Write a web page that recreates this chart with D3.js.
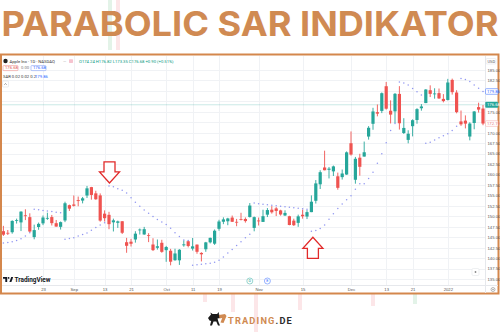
<!DOCTYPE html>
<html>
<head>
<meta charset="utf-8">
<script src="https://cdn.jsdelivr.net/npm/d3@7"></script>
<style>
  body { margin: 0; background: #fff; }
  svg { display: block; }
</style>
</head>
<body>
<div id="chart"></div>
<script>
// AAPL daily candles, Aug 2021 - Jan 2022
const dates = ["2021-08-10","2021-08-11","2021-08-12","2021-08-13","2021-08-16","2021-08-17","2021-08-18","2021-08-19","2021-08-20","2021-08-23","2021-08-24","2021-08-25","2021-08-26","2021-08-27","2021-08-30","2021-08-31","2021-09-01","2021-09-02","2021-09-03","2021-09-07","2021-09-08","2021-09-09","2021-09-10","2021-09-13","2021-09-14","2021-09-15","2021-09-16","2021-09-17","2021-09-20","2021-09-21","2021-09-22","2021-09-23","2021-09-24","2021-09-27","2021-09-28","2021-09-29","2021-09-30","2021-10-01","2021-10-04","2021-10-05","2021-10-06","2021-10-07","2021-10-08","2021-10-11","2021-10-12","2021-10-13","2021-10-14","2021-10-15","2021-10-18","2021-10-19","2021-10-20","2021-10-21","2021-10-22","2021-10-25","2021-10-26","2021-10-27","2021-10-28","2021-10-29","2021-11-01","2021-11-02","2021-11-03","2021-11-04","2021-11-05","2021-11-08","2021-11-09","2021-11-10","2021-11-11","2021-11-12","2021-11-15","2021-11-16","2021-11-17","2021-11-18","2021-11-19","2021-11-22","2021-11-23","2021-11-24","2021-11-26","2021-11-29","2021-11-30","2021-12-01","2021-12-02","2021-12-03","2021-12-06","2021-12-07","2021-12-08","2021-12-09","2021-12-10","2021-12-13","2021-12-14","2021-12-15","2021-12-16","2021-12-17","2021-12-20","2021-12-21","2021-12-22","2021-12-23","2021-12-27","2021-12-28","2021-12-29","2021-12-30","2021-12-31","2022-01-03","2022-01-04","2022-01-05","2022-01-06","2022-01-07","2022-01-10","2022-01-11","2022-01-12","2022-01-13"];

const open = [146.44,146.05,146.19,148.97,148.54,150.23,149.80,145.03,147.44,148.31,
  149.45,149.81,148.35,147.48,149.00,152.66,152.83,153.87,153.76,154.97,
  156.98,155.49,155.00,150.63,150.35,148.56,148.44,148.82,143.80,143.93,
  144.45,146.65,145.66,145.47,143.25,142.47,143.66,141.90,141.76,139.49,
  139.47,143.06,144.03,142.27,143.23,141.24,142.11,143.77,143.45,147.01,
  148.70,148.81,149.69,148.68,149.33,149.36,149.82,147.22,148.99,148.66,
  150.39,151.58,151.89,151.41,150.20,150.02,148.96,148.43,150.37,149.94,
  151.00,153.71,157.65,161.68,161.12,160.75,159.57,159.37,159.99,167.48,
  158.74,164.02,164.29,169.08,172.13,174.91,175.21,181.12,175.25,175.11,
  179.28,169.93,168.28,171.56,173.04,175.85,177.09,180.16,179.33,179.47,
  178.09,177.83,182.63,179.61,172.70,172.89,169.08,172.32,176.12,175.78];

const high = [147.71,146.72,149.05,149.44,151.19,151.68,150.72,148.00,148.50,150.19,
  150.86,150.32,149.12,148.75,153.49,152.80,154.98,154.72,154.63,157.26,
  157.04,156.11,155.48,151.42,151.07,149.44,148.97,148.82,144.84,144.60,
  146.43,147.08,147.47,145.96,144.75,144.45,144.38,142.92,142.21,142.24,
  142.15,144.22,144.18,144.81,143.25,141.40,143.88,144.90,146.84,149.17,
  149.75,149.64,150.18,149.37,150.84,149.73,153.17,149.94,149.70,151.57,
  151.97,152.43,152.20,151.57,151.43,150.13,149.43,150.40,151.60,151.49,
  155.00,158.67,161.02,165.70,161.80,162.14,160.45,161.19,165.52,170.30,
  164.20,164.96,167.88,171.58,175.96,176.75,179.63,182.13,177.74,179.50,
  181.14,173.47,170.58,173.20,175.86,176.85,180.42,181.33,180.63,180.57,
  179.23,182.88,182.94,180.17,175.30,174.14,172.50,175.18,177.18,176.62];

const low = [145.30,145.53,145.84,148.27,146.47,149.09,146.15,144.50,146.78,147.89,
  149.15,147.80,147.51,146.83,148.61,151.29,152.34,152.40,153.09,154.39,
  153.98,153.95,148.70,148.75,146.91,146.37,147.22,145.76,141.27,142.78,
  143.70,145.64,145.56,143.82,141.69,142.03,141.28,139.11,138.27,139.36,
  138.37,142.72,142.56,141.81,141.04,139.20,141.51,143.51,143.16,146.55,
  148.12,147.87,148.64,147.62,149.01,148.49,149.72,146.41,147.80,148.65,
  149.82,150.64,150.06,150.16,150.06,147.85,147.68,147.48,149.43,149.34,
  150.99,153.05,156.53,161.00,159.06,159.64,156.36,158.79,159.92,164.53,
  157.80,159.72,164.28,168.34,170.70,173.92,174.69,175.53,172.21,172.31,
  170.75,169.69,167.46,169.12,172.15,175.27,177.07,178.53,178.14,178.09,
  177.26,177.71,179.12,174.64,171.64,171.03,168.17,170.82,174.82,171.79];

const close = [145.60,145.86,148.89,149.10,151.12,150.19,146.36,146.70,148.19,149.71,
  149.62,148.36,147.54,148.60,153.12,151.83,152.51,153.65,154.30,156.69,
  155.11,154.07,148.97,149.55,148.12,149.03,148.79,146.06,142.94,143.43,
  145.85,146.83,146.92,145.37,141.91,142.83,141.50,142.65,139.14,141.11,
  142.00,143.29,142.90,142.81,141.51,140.91,143.76,144.84,146.55,148.76,
  149.26,149.48,148.69,148.64,149.32,148.85,152.57,149.80,148.96,150.02,
  151.49,150.96,151.28,150.44,150.81,147.92,147.87,149.99,150.00,151.00,
  153.49,157.87,160.55,161.02,161.41,161.94,156.81,160.24,165.30,164.77,
  163.76,161.84,165.32,171.18,175.08,174.56,179.45,175.74,174.33,179.30,
  172.26,171.14,169.75,172.99,175.64,176.28,180.33,179.29,179.38,178.20,
  177.57,182.01,179.70,174.92,172.00,172.17,172.19,175.08,175.53,172.19];

// Parabolic SAR dots (0.02 / 0.02 / 0.2)
const sar = [143.60,143.76,143.92,144.23,144.65,145.30,146.07,151.68,151.54,151.40,
  151.26,151.12,150.99,150.86,144.50,144.68,144.86,145.26,145.65,146.02,
  146.69,147.32,147.92,148.48,157.26,157.05,156.62,156.21,155.58,154.44,
  153.39,152.42,151.53,150.71,149.96,149.26,148.62,148.03,147.14,146.08,
  145.14,144.32,144.22,138.27,138.40,138.53,138.66,138.78,139.02,139.49,
  140.26,141.21,142.06,143.04,143.90,144.87,145.71,153.17,153.03,152.90,
  152.77,152.64,152.52,152.40,152.28,152.16,152.04,151.93,151.82,151.71,
  146.41,146.58,147.06,147.90,149.32,150.63,151.84,152.95,153.97,154.91,
  156.45,157.80,157.80,159.05,160.55,162.71,164.96,167.60,170.51,172.21,
  182.13,181.90,181.41,180.57,179.78,179.04,167.46,167.72,168.26,168.78,
  169.28,169.76,170.55,171.54,182.94,182.71,182.24,181.40,180.61,179.86];

const priceTicks = [185, 182.5, 180, 177.5, 175, 172.5, 170, 167.5, 165, 162.5, 160,
  157.5, 155, 152.5, 150, 147.5, 145, 142.5, 140, 137.5, 135];
const timeTicks = ["2021-08-23","2021-09-01","2021-09-13","2021-09-21","2021-10-01","2021-10-11",
  "2021-10-19","2021-11-01","2021-11-15","2021-12-01","2021-12-13","2021-12-21","2022-01-03"];
const timeLabels = ["23","Sep","13","21","Oct","11","19","Nov","15","Dec","13","21","2022"];

const signalDates = ["2021-09-14", "2021-11-17"];
const signalDirs = ["down", "up"];
const lastPrice = 176.68;

const GREEN = "#26a69a", RED = "#ef5350", BLUE = "#2962ff", ORANGE = "#d08a52";

const svg = d3.select("#chart").append("svg")
  .attr("width", 500)
  .attr("height", 332)
  .style("font-family", "Roboto, sans-serif");

// faint decorative candles around the picture
const decor = [
  {x: 110, y0: 0, y1: 50, c: "#e3f3e8"}, {x: 118, y0: 0, y1: 50, c: "#fce6e8"},
  {x: 205, y0: 294, y1: 302, c: "#fce6e8"}, {x: 233, y0: 294, y1: 312, c: "#fce6e8"},
  {x: 256, y0: 294, y1: 332, c: "#fce6e8"}, {x: 300, y0: 294, y1: 310, c: "#fce6e8"},
  {x: 373, y0: 294, y1: 306, c: "#fce6e8"}, {x: 415, y0: 294, y1: 304, c: "#e3f3e8"}
];
svg.selectAll("rect.decor").data(decor).join("rect")
  .attr("class", "decor")
  .attr("x", d => d.x - 2).attr("width", 4)
  .attr("y", d => d.y0).attr("height", d => d.y1 - d.y0)
  .attr("fill", d => d.c);

// title
svg.append("text")
  .attr("x", 250).attr("y", 36)
  .attr("text-anchor", "middle")
  .attr("textLength", 497).attr("lengthAdjust", "spacingAndGlyphs")
  .style("font-family", "Inter, sans-serif")
  .style("font-weight", 700)
  .style("font-size", "34px")
  .attr("fill", ORANGE)
  .text("PARABOLIC SAR INDIKATOR");

// frame
svg.append("rect")
  .attr("x", 1).attr("y", 54.5).attr("width", 497.5).attr("height", 239)
  .attr("fill", "#fff").attr("stroke", "#d4874c").attr("stroke-width", 2);

const x = d3.scalePoint().domain(dates).range([3.4, 483]);
const y = d3.scaleLinear().domain([135, 185]).range([279, 70]);

const plotL = 2, plotR = 485, plotT = 56, plotB = 285;

svg.append("clipPath").attr("id", "plotclip")
  .append("rect").attr("x", plotL).attr("y", plotT)
  .attr("width", plotR - plotL).attr("height", plotB - plotT);

// grid
const grid = svg.append("g");
grid.selectAll("line.h").data(priceTicks).join("line")
  .attr("x1", plotL).attr("x2", plotR)
  .attr("y1", d => Math.round(y(d)) + 0.5).attr("y2", d => Math.round(y(d)) + 0.5)
  .attr("stroke", "#f0f2f5");
grid.selectAll("line.v").data(timeTicks).join("line")
  .attr("x1", d => Math.round(x(d)) + 0.5).attr("x2", d => Math.round(x(d)) + 0.5)
  .attr("y1", plotT).attr("y2", plotB)
  .attr("stroke", "#f0f2f5");

const plot = svg.append("g").attr("clip-path", "url(#plotclip)");

// last price line
plot.append("line")
  .attr("x1", plotL).attr("x2", plotR)
  .attr("y1", y(lastPrice)).attr("y2", y(lastPrice))
  .attr("stroke", GREEN).attr("stroke-opacity", 0.35).attr("stroke-width", 0.7);

// candles
const idx = d3.range(dates.length);
const col = i => close[i] >= open[i] ? GREEN : RED;
const candles = plot.selectAll("g.candle").data(idx).join("g").attr("class", "candle");
candles.append("line")
  .attr("x1", i => x(dates[i])).attr("x2", i => x(dates[i]))
  .attr("y1", i => y(high[i])).attr("y2", i => y(low[i]))
  .attr("stroke", col).attr("stroke-width", 0.9);
candles.append("rect")
  .attr("x", i => x(dates[i]) - 1.6)
  .attr("width", 3.2)
  .attr("y", i => y(Math.max(open[i], close[i])))
  .attr("height", i => Math.max(0.8, Math.abs(y(open[i]) - y(close[i]))))
  .attr("fill", col);

// SAR dots
plot.selectAll("circle.sar").data(idx).join("circle")
  .attr("class", "sar")
  .attr("cx", i => x(dates[i])).attr("cy", i => y(sar[i]))
  .attr("r", 0.75)
  .attr("fill", "#7d84ee").attr("fill-opacity", 0.85);

// signal arrows
const arrowDown = "M0,0 L-10,-11 L-5.5,-11 L-5.5,-21 L5.5,-21 L5.5,-11 L10,-11 Z";
svg.selectAll("path.signal").data(signalDates).join("path")
  .attr("class", "signal")
  .attr("d", arrowDown)
  .attr("transform", (d, k) => {
    const i = dates.indexOf(d);
    return signalDirs[k] === "down"
      ? `translate(${x(d) + 0.5},${y(sar[i]) - 3})`
      : `translate(${x(d) + 1.5},${y(sar[i]) + 6}) scale(1,-1)`;
  })
  .attr("fill", "#fff").attr("stroke", "#e12a2a").attr("stroke-width", 1.3)
  .attr("stroke-linejoin", "miter");

// axis separators
svg.append("line").attr("x1", plotR + 0.5).attr("x2", plotR + 0.5)
  .attr("y1", plotT).attr("y2", plotB + 8).attr("stroke", "#e6e8ec");
svg.append("line").attr("x1", plotL).attr("x2", 498)
  .attr("y1", plotB + 0.5).attr("y2", plotB + 0.5).attr("stroke", "#e6e8ec");

// price labels on the axis (last SAR, last price, last close)
const labels = [
  {v: sar[sar.length - 1], fill: "#fff", stroke: BLUE, text: BLUE},
  {v: lastPrice, fill: GREEN, stroke: GREEN, text: "#fff"},
  {v: close[close.length - 1], fill: "#fff", stroke: "#f4a3a2", text: "#e57373"}
];

// price axis: ticks hidden where a price label sits on top
const shownTicks = priceTicks.filter(t => labels.every(l => Math.abs(y(t) - y(l.v)) > 5.8));
const yAxis = svg.append("g")
  .attr("transform", `translate(${plotR + 1.5},0)`)
  .call(d3.axisRight(y).tickValues(shownTicks).tickFormat(d3.format(".2f")).tickSize(0).tickPadding(1));
yAxis.select(".domain").remove();
yAxis.selectAll("text").style("font-size", "4.2px").attr("fill", "#555");

svg.append("rect").attr("x", 486).attr("y", 58.5).attr("width", 10).attr("height", 5.5)
  .attr("rx", 1).attr("fill", "#fff").attr("stroke", "#dcdfe4").attr("stroke-width", 0.5);
svg.append("text").attr("x", 487.5).attr("y", 62.6).text("USD")
  .style("font-size", "4px").attr("fill", "#555");

const lab = svg.selectAll("g.plab").data(labels).join("g")
  .attr("transform", d => `translate(${plotR + 0.5},${y(d.v)})`);
lab.append("rect").attr("x", 0).attr("y", -2.8).attr("width", 12.5).attr("height", 5.6)
  .attr("rx", 0.8).attr("fill", d => d.fill).attr("stroke", d => d.stroke).attr("stroke-width", 0.5);
lab.append("text").attr("x", 1.5).attr("y", 1.5)
  .text(d => d3.format(".2f")(d.v))
  .style("font-size", "4.2px").attr("fill", d => d.text);

// time axis
const xAxis = svg.append("g")
  .attr("transform", `translate(0,${plotB + 1})`)
  .call(d3.axisBottom(x).tickValues(timeTicks).tickFormat((d, k) => timeLabels[k]).tickSize(0).tickPadding(2));
xAxis.select(".domain").remove();
xAxis.selectAll("text").style("font-size", "4.2px").attr("fill", "#555");

// settings gear
svg.append("circle").attr("cx", 493).attr("cy", 289.5).attr("r", 2)
  .attr("fill", "none").attr("stroke", "#888").attr("stroke-width", 0.6);
svg.append("circle").attr("cx", 493).attr("cy", 289.5).attr("r", 0.7).attr("fill", "#888");

// legend / header
const hdr = svg.append("g").style("font-size", "4.2px");
hdr.append("circle").attr("cx", 5.5).attr("cy", 61).attr("r", 2.2).attr("fill", "#222");
hdr.append("text").attr("x", 9.5).attr("y", 62.5).attr("fill", "#333")
  .text("Apple Inc · 1D · NASDAQ");
hdr.append("text").attr("x", 63).attr("y", 62.5).attr("fill", "#999").text("—");
hdr.append("rect").attr("x", 69).attr("y", 59.3).attr("width", 4).attr("height", 3.6)
  .attr("rx", 0.6).attr("fill", "#f6c3cf");
hdr.append("text").attr("x", 79).attr("y", 62.5).attr("fill", "#089981")
  .text("O174.24 H176.82 L173.35 C176.68 +0.90 (+0.51%)");

hdr.append("rect").attr("x", 3).attr("y", 65.6).attr("width", 15).attr("height", 5)
  .attr("rx", 0.8).attr("fill", "#fff").attr("stroke", "#ef7d7b").attr("stroke-width", 0.5);
hdr.append("text").attr("x", 5).attr("y", 69.4).attr("fill", "#e15451").text(d3.format(".2f")(lastPrice));
hdr.append("text").attr("x", 21).attr("y", 69.4).attr("fill", "#777").text("0.00");
hdr.append("rect").attr("x", 31).attr("y", 65.6).attr("width", 15).attr("height", 5)
  .attr("rx", 0.8).attr("fill", "#fff").attr("stroke", "#6f8ff5").attr("stroke-width", 0.5);
hdr.append("text").attr("x", 33).attr("y", 69.4).attr("fill", BLUE).text(d3.format(".2f")(lastPrice));

hdr.append("text").attr("x", 3).attr("y", 78.3).attr("fill", "#333").text("SAR 0.02 0.02 0.2");
hdr.append("text").attr("x", 35).attr("y", 78.3).attr("fill", BLUE).text(d3.format(".2f")(sar[sar.length - 1]));

hdr.append("rect").attr("x", 2.5).attr("y", 81).attr("width", 6).attr("height", 6)
  .attr("rx", 0.8).attr("fill", "#fff").attr("stroke", "#d5d8de").attr("stroke-width", 0.5);
hdr.append("path").attr("d", "M4.3,84.8 L5.5,83.5 L6.7,84.8").attr("fill", "none")
  .attr("stroke", "#444").attr("stroke-width", 0.5);

// TradingView watermark
const tv = svg.append("g").attr("transform", "translate(3,276)");
tv.append("path").attr("d", "M0,1 H4.2 V6 H2.3 V2.7 H0 Z").attr("fill", "#131722");
tv.append("circle").attr("cx", 5.6).attr("cy", 1.9).attr("r", 0.9).attr("fill", "#131722");
tv.append("path").attr("d", "M6.4,6 L8.2,1 H10.2 L8.4,6 Z").attr("fill", "#131722");
tv.append("text").attr("x", 11.5).attr("y", 5.6)
  .attr("textLength", 36).attr("lengthAdjust", "spacingAndGlyphs")
  .style("font-size", "6.4px").style("font-weight", 700).attr("fill", "#131722")
  .text("TradingView");

// event markers on the time axis
const ev = [{x: x("2021-10-28"), c: GREEN, t: "D"}, {x: x("2021-11-03"), c: BLUE, t: "E"}];
const evg = svg.selectAll("g.ev").data(ev).join("g")
  .attr("transform", d => `translate(${d.x},281)`);
evg.append("circle").attr("r", 3).attr("fill", "#fff").attr("stroke", d => d.c)
  .attr("stroke-opacity", 0.6).attr("stroke-width", 0.8);
evg.append("text").attr("y", 1.4).attr("text-anchor", "middle")
  .style("font-size", "3.8px").attr("fill", d => d.c).text(d => d.t);

// scroll-to-latest button
svg.append("rect").attr("x", 472).attr("y", 268.5).attr("width", 7).attr("height", 7)
  .attr("rx", 1.2).attr("fill", "#fff").attr("stroke", "#e3e5e9").attr("stroke-width", 0.6);
svg.append("circle").attr("cx", 475.5).attr("cy", 272).attr("r", 0.9).attr("fill", "#888");

// trading.de logo
const logo = svg.append("g").attr("transform", "translate(208,312)");
logo.append("path")
  .attr("d", "M0,6 L3,2.5 L2.4,0.5 L4.6,2 L9,2 L11,0 L10.8,2.4 L13,3.5 L12,6 L9.5,6.5 L10.5,10 L12,13.5 L10,13.5 L8.3,9.5 L5.5,9.5 L4,13.5 L2,13.5 L3.2,9 L1.5,8.5 Z")
  .attr("fill", "#1b1b1b");
logo.append("path")
  .attr("d", "M11,3 L17,2 L18.5,4 L15.5,11 L12.5,10.5 L14.2,6 L11.5,6.5 Z")
  .attr("fill", ORANGE);
svg.append("text")
  .attr("x", 228).attr("y", 323.5)
  .attr("textLength", 65).attr("lengthAdjust", "spacingAndGlyphs")
  .style("font-size", "9.4px").style("font-weight", 700)
  .style("letter-spacing", "1.2px")
  .call(t => {
    t.append("tspan").attr("fill", ORANGE).text("TRADING");
    t.append("tspan").attr("fill", "#2b2b2b").text(".DE");
  });
</script>
</body>
</html>
